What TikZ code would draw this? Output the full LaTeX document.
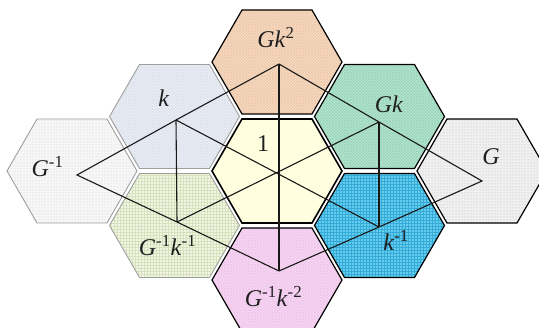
\documentclass[tikz,border=0pt]{standalone}
\usepackage{xcolor}
\usepackage{fontspec}
\setmainfont{Liberation Serif}
\usetikzlibrary{patterns}

\definecolor{peach}{HTML}{F7DDC8}
\definecolor{peachline}{HTML}{EFC8A8}
\definecolor{kblue}{HTML}{EDF0F6}
\definecolor{kblueline}{HTML}{DCE2ED}
\definecolor{gkgreen}{HTML}{B9E5D2}
\definecolor{gkgreenline}{HTML}{97D6BA}
\definecolor{paledot}{HTML}{F7F7F7}
\definecolor{paledotline}{HTML}{C4C4C4}
\definecolor{oneyellow}{HTML}{FFFFDF}
\definecolor{gdot}{HTML}{F0F0F0}
\definecolor{gdotline}{HTML}{B4B4B4}
\definecolor{limegrid}{HTML}{F3F6E6}
\definecolor{limegridline}{HTML}{D6E2BC}
\definecolor{cyangrid}{HTML}{66CEEC}
\definecolor{cyangridline}{HTML}{34AAD8}
\definecolor{pinkcell}{HTML}{F9DBF5}
\definecolor{pinkcellline}{HTML}{F0C4EC}

\tikzset{
  darkcell/.style={line width=1.2pt, draw=black, line join=miter},
  palecell/.style={line width=0.9pt, draw=black!38, line join=miter},
  lbl/.style={anchor=base, inner sep=0pt, text=black!88, font=\fontsize{24}{28}\selectfont},
  link/.style={line width=1.1pt, draw=black!90},
}

\newcommand{\hexcell}[3]{%
  \draw[#3] (#2) ++(-65,0) -- ++(30,-52) -- ++(70,0) -- ++(30,52) -- ++(-30,52) -- ++(-70,0) -- cycle;
  \coordinate (#1) at (#2);
}

\begin{document}
\begin{tikzpicture}[x=1pt, y=-1pt]
    \useasboundingbox (0,0) rectangle (539,328);
    \clip (0,0) rectangle (539,328);

    \hexcell{ginv}{72,171}{palecell, preaction={fill=paledot}, pattern=dots, pattern color=paledotline}
    \hexcell{k}{174.5,116.5}{palecell, preaction={fill=kblue}, pattern=crosshatch, pattern color=kblueline}
    \hexcell{ginvkinv}{174.5,225.5}{palecell, preaction={fill=limegrid}, pattern=grid, pattern color=limegridline}
    \hexcell{gk2}{277,62}{darkcell, preaction={fill=peach}, pattern=crosshatch, pattern color=peachline}
    \hexcell{one}{277,171}{darkcell, line width=1.6pt, fill=oneyellow}
    \hexcell{ginvk2}{277,280}{darkcell, preaction={fill=pinkcell}, pattern=crosshatch, pattern color=pinkcellline}
    \hexcell{gk}{379.5,116.5}{darkcell, preaction={fill=gkgreen}, pattern=crosshatch, pattern color=gkgreenline}
    \hexcell{kinv}{379.5,225.5}{darkcell, preaction={fill=cyangrid}, pattern=grid, pattern color=cyangridline}
    \hexcell{g}{482,171}{darkcell, preaction={fill=gdot}, pattern=dots, pattern color=gdotline}

    \coordinate (tGinv) at (77,175);
    \coordinate (tk) at (176,120);
    \coordinate (tGk2) at (279,64);
    \coordinate (tGk) at (379,122);
    \coordinate (tG) at (482,181);
    \coordinate (tkinv) at (379,227);
    \coordinate (tGinvk2) at (279,271);
    \coordinate (tGinvkinv) at (177,222);

    \draw[link] (tGinv) -- (tk) -- (tGk2) -- (tGk) -- (tG) -- (tkinv) -- (tGinvk2) -- (tGinvkinv) -- cycle;
    \draw[link] (tGk2) -- (tGinvk2);
    \draw[link] (tk) -- (tkinv);
    \draw[link] (tGk) -- (tGinvkinv);
    \draw[link] (tk) -- (tGinvkinv);
    \draw[link] (tGk) -- (tkinv);

    \node (lk) [lbl] at (164,107) {\textit{k}};
    \node (lgk2) [lbl] at (276,48) {\textit{Gk}\textsuperscript{2}};
    \node (lgk) [lbl] at (389,113) {\textit{Gk}};
    \node (lginv) [lbl] at (47.5,177) {\textit{G}\textsuperscript{-1}};
    \node (lone) [lbl] at (263,152) {1};
    \node (lg) [lbl] at (491,165) {\textit{G}};
    \node (lginvkinv) [lbl] at (167.5,256) {\textit{G}\textsuperscript{-1}\textit{k}\textsuperscript{-1}};
    \node (lkinv) [lbl] at (396,251) {\textit{k}\textsuperscript{-1}};
    \node (lginvk2) [lbl] at (273.5,307) {\textit{G}\textsuperscript{-1}\textit{k}\textsuperscript{-2}};
\end{tikzpicture}
\end{document}
